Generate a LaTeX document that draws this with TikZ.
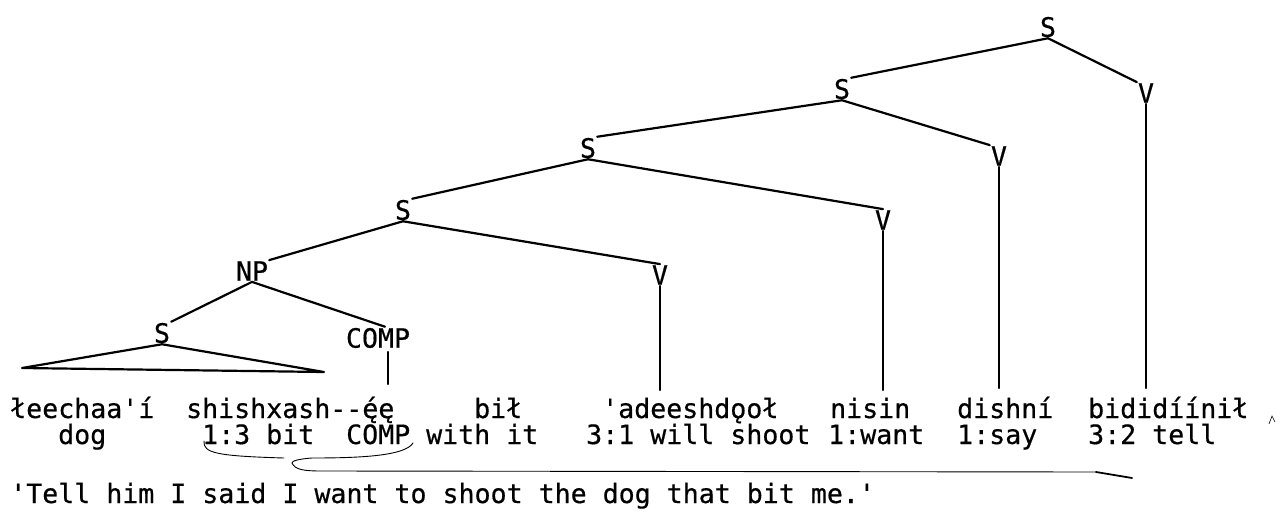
\documentclass[tikz,border=0pt]{standalone}
\usepackage{fontspec}
\setmonofont{DejaVu Sans Mono}[FakeBold=0.5]
\begin{document}
\begin{tikzpicture}[x=1pt,y=-1pt,
  lab/.style={font=\ttfamily\fontsize{26.6}{26.6}\selectfont, inner sep=0pt},
  cat/.style={lab, inner sep=1pt},
  word/.style={lab, anchor=base west},
  br/.style={line width=2.2pt, line cap=round, line join=round},
  thin/.style={line width=0.9pt, line cap=round}]
\useasboundingbox (0,0) rectangle (1282,519);

% tree labels
\node[cat] (s1) at (1048,27) {S};
\node[cat] (s2) at (842,89) {S};
\node[cat] (v1) at (1146,93) {V};
\node[cat] (s3) at (588,148) {S};
\node[cat] (v2) at (999,156) {V};
\node[cat] (s4) at (403,210) {S};
\node[cat] (v3) at (883,220) {V};
\node[cat] (np) at (252,271) {NP};
\node[cat] (v4) at (660,275) {V};
\node[cat] (s5) at (162,333) {S};
\node[cat] (comp) at (378,338) {COMP};

% coordinates for line ends
\coordinate (v1b) at (1146,388);
\coordinate (v2b) at (999,388);
\coordinate (v3b) at (883,390);
\coordinate (v4b) at (660,390);
\coordinate (tl) at (22,368);
\coordinate (tr) at (324,372);
\coordinate (ct) at (388,352);
\coordinate (cb) at (388,384);

% tree branches
\draw[br] (s1.south) -- (s2.north east);
\draw[br] (s1.south) -- (v1.north west);
\draw[br] (s2.south) -- (s3.north east);
\draw[br] (s2.south) -- (v2.north west);
\draw[br] (s3.south) -- (s4.north east);
\draw[br] (s3.south) -- (v3.north);
\draw[br] (s4.south) -- (np.north east);
\draw[br] (s4.south) -- (v4.north);
\draw[br] (np.south) -- (s5.north east);
\draw[br] (np.south) -- ([xshift=7pt]comp.north);
\draw[br] (tl) -- (s5.south) -- (tr) -- cycle;
\draw[br] (v1.south) -- (v1b);
\draw[br] (v2.south) -- (v2b);
\draw[br] (v3.south) -- (v3b);
\draw[br] (v4.south) -- (v4b);
\draw[br] (ct) -- (cb);

% row 1
\node[word] (w1) at (10,418) {łeechaa'í};
\node[word] (w2) at (186,418) {shishxash--ę́ę};
\node[word] (w3) at (474,418) {bił};
\node[word] (w4) at (602,418) {'adeeshdǫoł};
\node[word] (w5) at (830,418) {nisin};
\node[word] (w6) at (957,418) {dishní};
\node[word] (w7) at (1088,418) {bididíínił};

% row 2
\node[word] (g1) at (58,444) {dog};
\node[word] (g2) at (202,444) {1:3 bit};
\node[word] (g3) at (346,444) {COMP};
\node[word] (g4) at (426,444) {with it};
\node[word] (g5) at (586,444) {3:1 will shoot};
\node[word] (g6) at (828,444) {1:want};
\node[word] (g7) at (957,444) {1:say};
\node[word] (g8) at (1088,444) {3:2 tell};

% translation
\node[word] (tr1) at (10,503) {'Tell him I said I want to shoot the dog that bit me.'};

% brackets under the glosses
\coordinate (a1) at (204,441);
\coordinate (a2) at (284,458);
\draw[thin] (a1) .. controls (203,453) and (216,456) .. (a2);
\coordinate (b1) at (413,443);
\coordinate (b2) at (292,463);
\coordinate (b3) at (1096,472);
\coordinate (b4) at (1132,478);
\draw[thin] (b1) .. controls (405,456) and (360,458) .. (312,458)
  .. controls (298,459) and (292,461) .. (b2)
  .. controls (295,470) and (305,471) .. (322,471) -- (b3);
\draw[line width=1.8pt, line cap=round] (b3) -- (b4);

% stray mark
\coordinate (m1) at (1269,424);
\coordinate (m2) at (1272,416);
\coordinate (m3) at (1275,422);
\draw[line width=0.6pt] (m1) -- (m2) -- (m3);
\end{tikzpicture}
\end{document}
